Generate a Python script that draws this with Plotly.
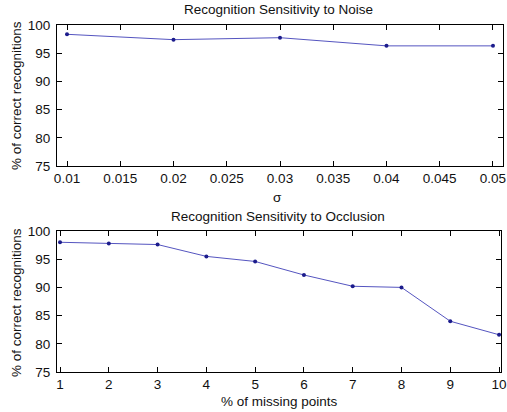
import plotly.graph_objects as go

noise_sigma = [0.01, 0.02, 0.03, 0.04, 0.05]
noise_rate = [98.35, 97.4, 97.75, 96.3, 96.3]

occl_pct = [1, 2, 3, 4, 5, 6, 7, 8, 9, 10]
occl_rate = [98.0, 97.8, 97.6, 95.5, 94.6, 92.2, 90.2, 90.0, 84.0, 81.6]

y_ticks = [75, 80, 85, 90, 95, 100]
noise_ticks = [0.01, 0.015, 0.02, 0.025, 0.03, 0.035, 0.04, 0.045, 0.05]
occl_ticks = list(range(1, 11))

W, H = 507, 412
FONT = "Arial, Liberation Sans, Helvetica, sans-serif"
line_col = "#5555c0"
mk_col = "#1c1c8c"

fig = go.Figure()
fig.add_trace(go.Scatter(x=noise_sigma, y=noise_rate, mode="lines+markers",
                         line=dict(color=line_col, width=1),
                         marker=dict(color=mk_col, size=4, symbol="circle"),
                         xaxis="x", yaxis="y", showlegend=False))
fig.add_trace(go.Scatter(x=occl_pct, y=occl_rate, mode="lines+markers",
                         line=dict(color=line_col, width=1),
                         marker=dict(color=mk_col, size=4, symbol="circle"),
                         xaxis="x2", yaxis="y2", showlegend=False))

ax_common = dict(showline=True, linecolor="black", linewidth=1, mirror="allticks",
                 ticks="inside", ticklen=5, tickcolor="black", showgrid=False,
                 zeroline=False, automargin=False,
                 tickfont=dict(family=FONT, size=13.5, color="#111"))

TF = dict(family=FONT, size=13.5, color="#111")


def ann(text, x, y, angle=0):
    return dict(text=text, xref="paper", yref="paper", x=x, y=y,
                xanchor="center", yanchor="middle", showarrow=False,
                textangle=angle, font=TF)


def px(xp):
    return (xp - 57) / (W - 57 - 4)


def py(yp):
    return 1 - yp / H


fig.update_layout(
    width=W, height=H,
    margin=dict(l=57, r=4, t=0, b=0, autoexpand=False),
    paper_bgcolor="white", plot_bgcolor="white",
    font=dict(family=FONT, size=13.5, color="#111"),
    xaxis=dict(domain=[0, 1], anchor="y", range=[0.00906, 0.05094],
               tickvals=noise_ticks, ticktext=[f"{v:g}" for v in noise_ticks],
               **ax_common),
    yaxis=dict(domain=[py(166), py(25)], anchor="x", range=[75, 100],
               tickvals=y_ticks, ticklabelstandoff=3, **ax_common),
    xaxis2=dict(domain=[0, 444 / 446], anchor="y2", range=[0.938, 10.04],
                tickvals=occl_ticks, **ax_common),
    yaxis2=dict(domain=[py(372), py(231)], anchor="x2", range=[75, 100],
                tickvals=y_ticks, ticklabelstandoff=3, **ax_common),
    annotations=[
        ann("Recognition Sensitivity to Noise", px(278), py(10)),
        ann("Recognition Sensitivity to Occlusion", px(278), py(216)),
        ann("σ", px(277), py(197)),
        ann("% of missing points", px(279), py(401)),
        ann("% of correct recognitions", px(16), py(96), -90),
        ann("% of correct recognitions", px(16), py(303), -90),
    ],
)

fig.write_html("out.html", config={"displayModeBar": False},
               post_script="document.body.style.margin='0';document.body.style.overflow='hidden';")
